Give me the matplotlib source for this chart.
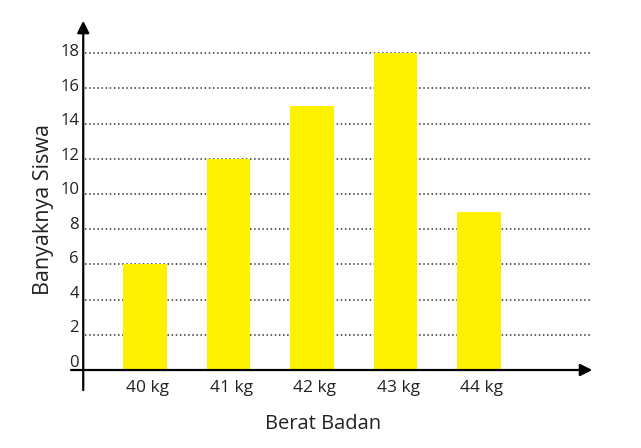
import matplotlib.pyplot as plt

kategori = ['40 kg', '41 kg', '42 kg', '43 kg', '44 kg']
siswa = [6, 12, 15, 18, 9]
yticks = [0, 2, 4, 6, 8, 10, 12, 14, 16, 18]

plt.rcParams['font.family'] = ['Open Sans', 'DejaVu Sans']
warna_teks = '#222222'

fig = plt.figure(figsize=(6.41, 4.48), dpi=100)
ax = fig.add_axes([0, 0, 1, 1])
ax.set_xlim(-1.737, 5.94)
ax.set_ylim(-4.43, 21.02)
ax.axis('off')

x = list(range(len(kategori)))

# garis bantu putus-putus
for t in yticks[1:]:
    ax.plot([-0.72, 5.35], [t, t], linestyle=(0, (1, 1.7)), color='#333333',
            linewidth=1.1, zorder=1)

ax.bar(x, siswa, width=0.52, color='#fff200', zorder=2)

# sumbu dengan panah
ax.annotate('', xy=(5.39, 0), xytext=(-0.92, 0),
            arrowprops=dict(arrowstyle='-|>', color='black', lw=1.6,
                            mutation_scale=18), zorder=3)
ax.annotate('', xy=(-0.74, 20.0), xytext=(-0.74, -1.3),
            arrowprops=dict(arrowstyle='-|>', color='black', lw=1.6,
                            mutation_scale=18), zorder=3)

for t in yticks:
    ax.text(-0.79, t + 0.35 * (1 - t / 18) + 0.05, str(t), ha='right', va='center',
            fontsize=12, color=warna_teks)

for i, k in enumerate(kategori):
    ax.text(i + 0.03, -1.0, k, ha='center', va='center', fontsize=12.5,
            color=warna_teks)

ax.text(2.13, -3.05, 'Berat Badan', ha='center', va='center', fontsize=14.5,
        color=warna_teks)
ax.text(-1.22, 9.1, 'Banyaknya Siswa', ha='center', va='center', fontsize=15.5,
        rotation=90, color=warna_teks)

plt.savefig('out.png', dpi=100)
